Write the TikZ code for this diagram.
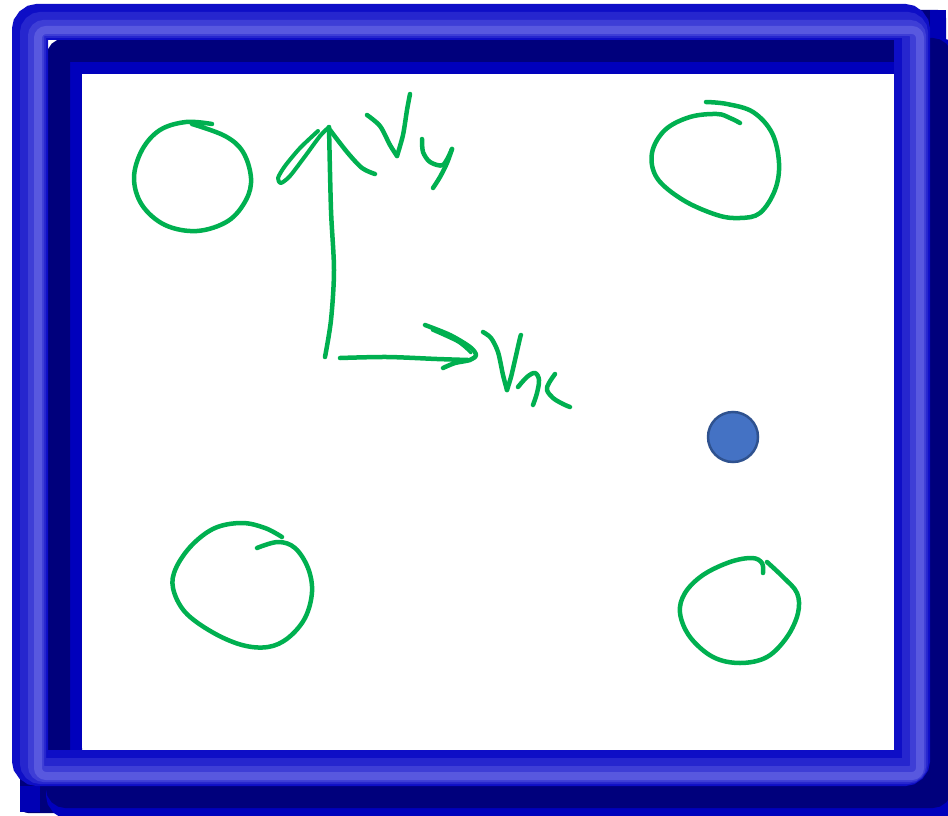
\documentclass[tikz,border=0pt]{standalone}
\definecolor{framebg}{HTML}{0000B4}
\definecolor{shadowlight}{HTML}{0000BC}
\definecolor{shadowdark}{HTML}{00007C}
\definecolor{tubeA}{HTML}{0E0EC6}
\definecolor{tubeB}{HTML}{2626CE}
\definecolor{tubeC}{HTML}{3E3ED6}
\definecolor{tubeD}{HTML}{5858DF}
\definecolor{inkgreen}{HTML}{00B050}
\definecolor{dotfill}{HTML}{4472C4}
\definecolor{dotedge}{HTML}{2F528F}
\begin{document}
\begin{tikzpicture}[x=1pt,y=-1pt,
  ink/.style={draw=inkgreen, line width=4.5pt, line cap=round, line join=round},
  tube/.style={rounded corners=8pt}]
\useasboundingbox (0,0) rectangle (948,816);
\begin{scope}
\clip (0,0) rectangle (948,816);
% frame shadow (lower and right bands, inner top/left bands)
\fill[shadowdark, rounded corners=8pt] (20,770) rectangle (946,813);
\fill[shadowdark, rounded corners=8pt] (900,10) rectangle (946,813);
\fill[framebg] (930,10) rectangle (946,40);
\fill[framebg] (20,786) rectangle (40,812);
\draw[tube, line width=36pt, shadowlight] (64,56) rectangle (946,802);
\draw[tube, line width=24pt, shadowdark] (58,50) rectangle (940,796);
% raised tube
\draw[tube, line width=36pt, tubeA] (30,22) rectangle (912,768);
\draw[tube, line width=26pt, tubeB] (33,25) rectangle (915,771);
\draw[tube, line width=16pt, tubeC] (36,28) rectangle (918,774);
\draw[tube, line width=8pt, tubeD] (38,30) rectangle (920,776);
% white field
\fill[white] (82,74) rectangle (893,748);
\end{scope}

% circles
\draw[ink] plot[smooth, tension=0.6] coordinates {(212,124) (186,122) (160,130) (142,150) (134,178) (142,205) (165,225) (197,231) (228,221) (246,200) (251,178) (243,152) (225,136) (192,124)};
\draw[ink] plot[smooth, tension=0.6] coordinates {(706,102) (727,104) (753,112) (772,133) (779,163) (775,190) (760,213) (740,218) (717,215) (683,200) (657,178) (652,153) (665,130) (690,117) (717,114) (730,118) (740,123)};
\draw[ink] plot[smooth, tension=0.6] coordinates {(282,537) (265,528) (242,523) (215,528) (192,545) (176,568) (173,588) (185,612) (212,632) (242,645) (268,647) (288,638) (305,618) (312,592) (308,568) (295,548) (278,542) (257,548)};
\draw[ink] plot[smooth, tension=0.6] coordinates {(763,573) (762,563) (752,558) (730,562) (703,575) (685,593) (680,613) (690,637) (713,657) (740,663) (767,657) (787,637) (798,613) (797,593) (783,577) (767,562)};

% v_y arrow
\draw[ink] plot[smooth] coordinates {(325,357) (331,320) (334,270) (331,210) (329,127)};
\draw[ink, line width=4pt] plot[smooth, tension=0.45] coordinates {(318,131) (300,148) (285,166) (278,178) (281,183) (290,176) (306,155) (320,136) (329,127)};
\draw[ink] plot[smooth] coordinates {(330,130) (347,152) (362,168) (375,174)};
% V_y letters
\draw[ink] plot[smooth] coordinates {(367,115) (380,126) (390,145) (397,156)};
\draw[ink] plot[smooth] coordinates {(397,156) (403,135) (407,110) (410,94)};
\draw[ink] plot[smooth] coordinates {(422,139) (423,152) (430,162) (443,165) (452,149)};
\draw[ink] plot[smooth] coordinates {(452,149) (447,163) (440,177) (433,188)};

% v_x arrow
\draw[ink] plot[smooth] coordinates {(340,358) (387,357) (437,359) (468,360)};
\draw[ink] plot[smooth, tension=0.5] coordinates {(425,325) (450,335) (470,347) (476,355) (470,360) (455,363) (443,368)};
\draw[ink, line width=3pt] plot[smooth] coordinates {(432,330) (458,342) (471,353)};
% V_x letters
\draw[ink] plot[smooth] coordinates {(483,332) (491,338) (498,352) (503,375) (507,390)};
\draw[ink] plot[smooth] coordinates {(507,390) (511,377) (515,360) (520,338) (521,335)};
\draw[ink] plot[smooth, tension=0.6] coordinates {(518,387) (527,377) (535,373) (539,380) (537,393) (533,405)};
\draw[ink] plot[smooth, tension=0.6] coordinates {(555,374) (549,383) (547,390) (553,398) (563,404) (570,407)};

% blue dot
\node[circle, fill=dotfill, draw=dotedge, line width=2.5pt, minimum size=50pt, inner sep=0pt] (dot) at (733,437) {};
\end{tikzpicture}
\end{document}
